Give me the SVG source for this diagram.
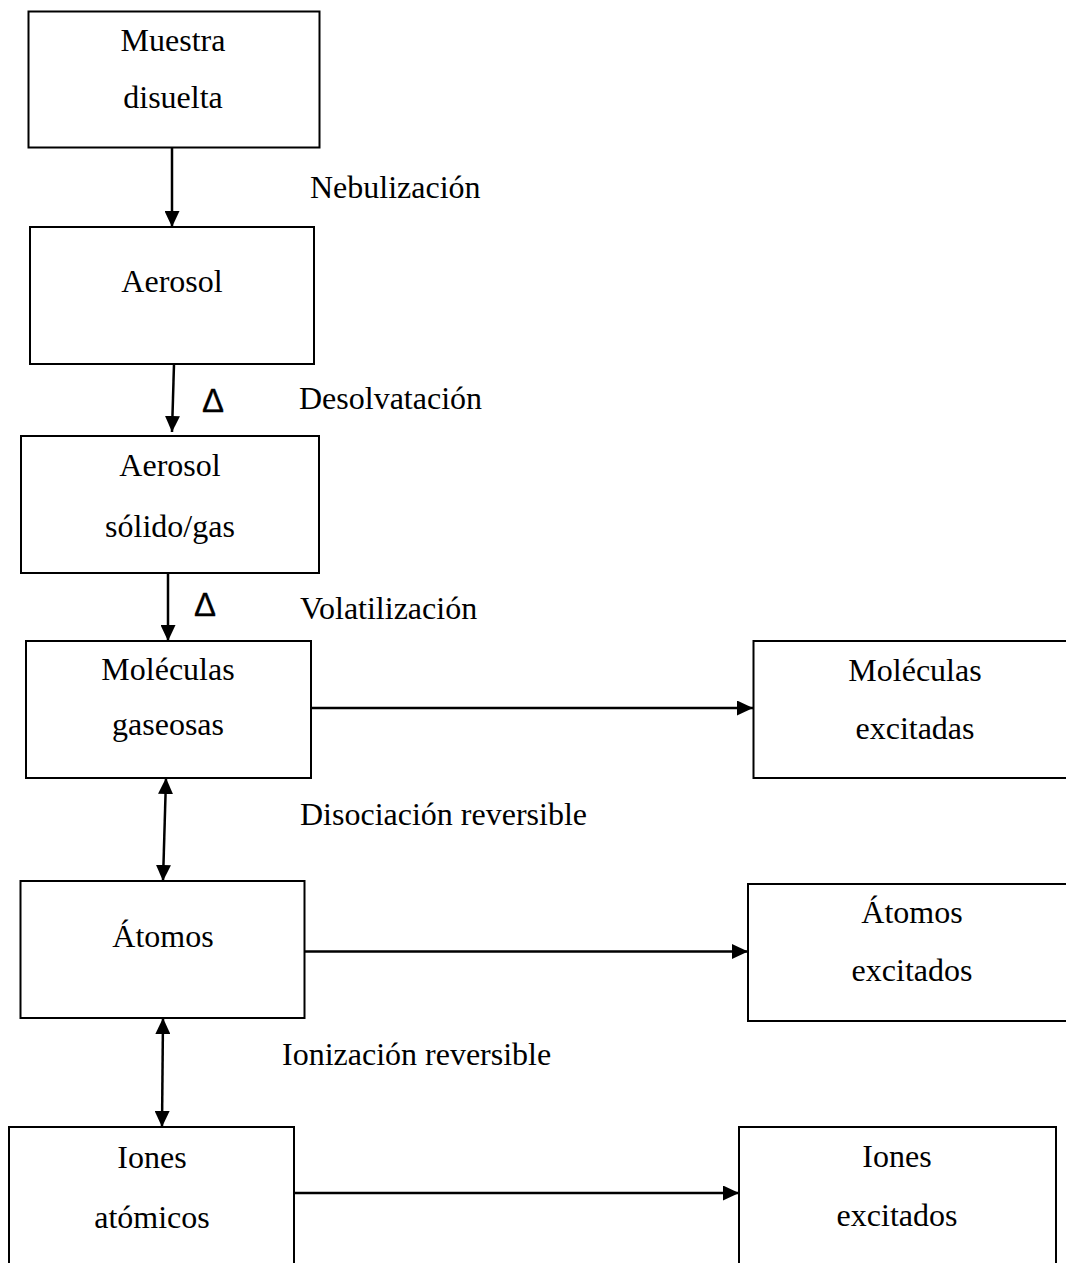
<svg xmlns="http://www.w3.org/2000/svg" width="1066" height="1263" viewBox="0 0 1066 1263">
<style>
.box{fill:#fff;stroke:#000;stroke-width:2}
.t{font-family:"Liberation Serif","Times New Roman",serif;font-size:32px;fill:#000}
.c{text-anchor:middle}
.d{font-family:"Liberation Sans",Arial,sans-serif;font-size:33px;fill:#000;stroke:#000;stroke-width:0.3}
.ln{stroke:#000;stroke-width:2.5;fill:none}
</style>
<defs>
<marker id="ah" markerUnits="userSpaceOnUse" markerWidth="16" markerHeight="15" refX="16" refY="7.5" orient="auto-start-reverse">
<path d="M0,0 L16,7.5 L0,15 z" fill="#000"/>
</marker>
</defs>
<rect width="1066" height="1263" fill="#fff"/>
<g id="connectors">
<line class="ln" x1="172" y1="148" x2="172" y2="227" marker-end="url(#ah)"/>
<line class="ln" x1="174" y1="364" x2="172" y2="432" marker-end="url(#ah)"/>
<line class="ln" x1="168" y1="573" x2="168" y2="641" marker-end="url(#ah)"/>
<line class="ln" x1="166" y1="778" x2="163" y2="881" marker-start="url(#ah)" marker-end="url(#ah)"/>
<line class="ln" x1="163" y1="1018" x2="162" y2="1127" marker-start="url(#ah)" marker-end="url(#ah)"/>
<line class="ln" x1="307" y1="708" x2="753" y2="708" marker-end="url(#ah)"/>
<line class="ln" x1="302" y1="951.5" x2="748" y2="951.5" marker-end="url(#ah)"/>
<line class="ln" x1="294" y1="1193" x2="739" y2="1193" marker-end="url(#ah)"/>
</g>
<g id="labels">
<text class="t" x="310" y="198">Nebulización</text>
<text class="d" x="202" y="412">Δ</text>
<text class="t" x="299" y="409">Desolvatación</text>
<text class="d" x="194" y="616">Δ</text>
<text class="t" x="300" y="619">Volatilización</text>
<text class="t" x="300" y="825">Disociación reversible</text>
<text class="t" x="282" y="1065">Ionización reversible</text>
</g>
<g id="muestra">
<rect class="box" x="28.5" y="11.5" width="291" height="136"/>
<text class="t c" x="173" y="51">Muestra</text>
<text class="t c" x="173" y="108">disuelta</text>
</g>
<g id="aerosol">
<rect class="box" x="30" y="227" width="284" height="137"/>
<text class="t c" x="172" y="292">Aerosol</text>
</g>
<g id="aerosol-solido">
<rect class="box" x="21" y="436" width="298" height="137"/>
<text class="t c" x="170" y="476">Aerosol</text>
<text class="t c" x="170" y="537">sólido/gas</text>
</g>
<g id="moleculas">
<rect class="box" x="26" y="641" width="285" height="137"/>
<text class="t c" x="168" y="680">Moléculas</text>
<text class="t c" x="168" y="735">gaseosas</text>
</g>
<g id="atomos">
<rect class="box" x="20.5" y="881" width="284" height="137"/>
<text class="t c" x="163" y="947">Átomos</text>
</g>
<g id="iones">
<rect class="box" x="9" y="1127" width="285" height="200"/>
<text class="t c" x="152" y="1168">Iones</text>
<text class="t c" x="152" y="1228">atómicos</text>
</g>
<g id="moleculas-excitadas">
<rect class="box" x="753.5" y="641" width="330" height="137"/>
<text class="t c" x="915" y="681">Moléculas</text>
<text class="t c" x="915" y="739">excitadas</text>
</g>
<g id="atomos-excitados">
<rect class="box" x="748" y="884" width="330" height="137"/>
<text class="t c" x="912" y="923">Átomos</text>
<text class="t c" x="912" y="981">excitados</text>
</g>
<g id="iones-excitados">
<rect class="box" x="739" y="1127" width="317" height="200"/>
<text class="t c" x="897" y="1167">Iones</text>
<text class="t c" x="897" y="1226">excitados</text>
</g>
</svg>
